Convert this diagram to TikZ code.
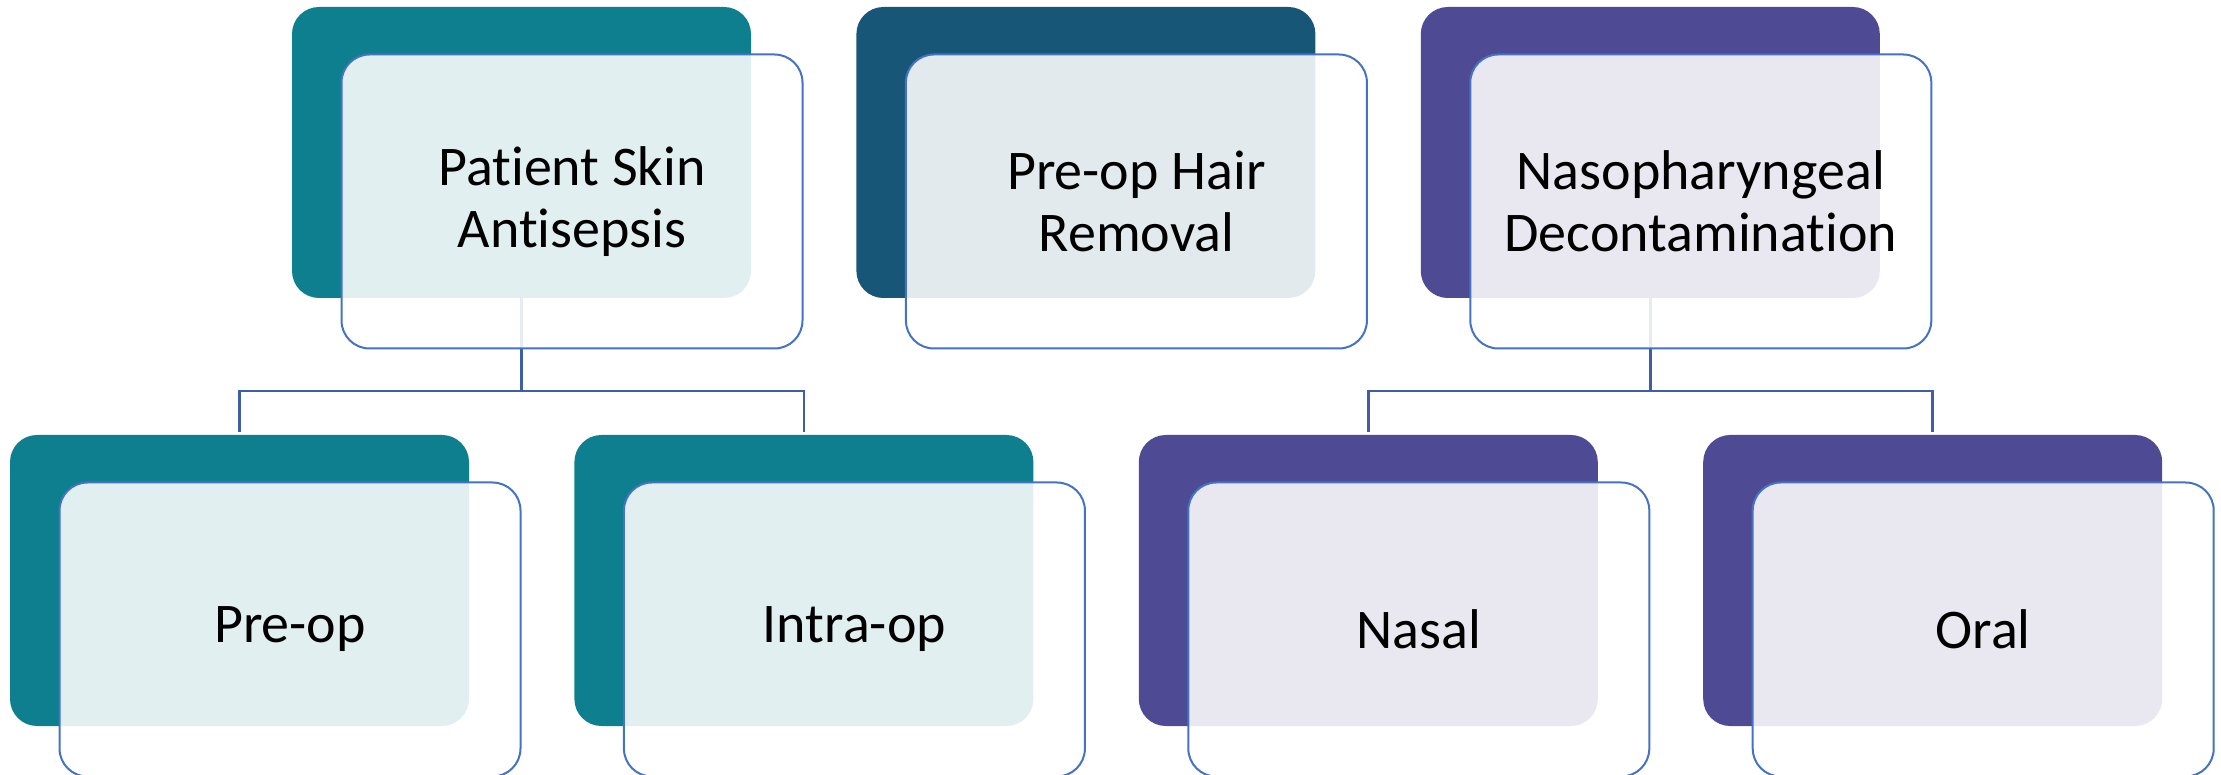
\documentclass[tikz,border=0pt]{standalone}
\usepackage{fontspec}
\setmainfont{Carlito}[Ligatures=NoCommon]
\usetikzlibrary{positioning}

\definecolor{tealbox}{RGB}{14,127,143}
\definecolor{navybox}{RGB}{24,86,119}
\definecolor{purplebox}{RGB}{79,74,148}
\definecolor{frameblue}{RGB}{68,114,196}
\definecolor{linkblue}{RGB}{62,94,168}

\begin{document}
\begin{tikzpicture}[
	back/.style={rectangle, draw=none, rounded corners=27pt, inner sep=0pt,
		minimum width=459pt, minimum height=291pt},
	front/.style={rectangle, draw=frameblue, line width=2pt, rounded corners=28pt,
		fill=white, fill opacity=0.88, text opacity=1, text=black, align=center,
		minimum width=461pt, minimum height=294pt, xshift=50.5pt, yshift=-49pt,
		font=\fontsize{56}{62}\selectfont},
	link/.style={draw=linkblue, line width=2.5pt, shorten >=3pt},
	node distance=105pt
]
\useasboundingbox (0,0) rectangle (2221pt,774pt);

% top row
\node [back, fill=tealbox] (skinB) at (521.5pt,621.5pt) {};
\node [back, fill=navybox, right=of skinB] (hairB) {};
\node [back, fill=purplebox, right=of hairB] (nasoB) {};

% bottom row
\node [back, fill=tealbox] (preB) at (239.5pt,193.5pt) {};
\node [back, fill=tealbox, right=of preB] (intraB) {};
\node [back, fill=purplebox, right=of intraB] (nasalB) {};
\node [back, fill=purplebox, right=of nasalB] (oralB) {};

\draw [link] (skinB.south) -- ++(0,-93pt) -| (preB.north);
\draw [link] (skinB.south) -- ++(0,-93pt) -| (intraB.north);
\draw [link] (nasoB.south) -- ++(0,-93pt) -| (nasalB.north);
\draw [link] (nasoB.south) -- ++(0,-93pt) -| (oralB.north);

\node [front] (skin) at (skinB) {Patient Skin\\Antisepsis};
\node [front] (hair) at (hairB) {Pre-op Hair\\Removal};
\node [front] (naso) at (nasoB) {Nasopharyngeal\\Decontamination};
\node [front] (pre) at (preB) {Pre-op};
\node [front] (intra) at (intraB) {Intra-op};
\node [front] (nasal) at (nasalB) {Nasal};
\node [front] (oral) at (oralB) {Oral};

\end{tikzpicture}
\end{document}
